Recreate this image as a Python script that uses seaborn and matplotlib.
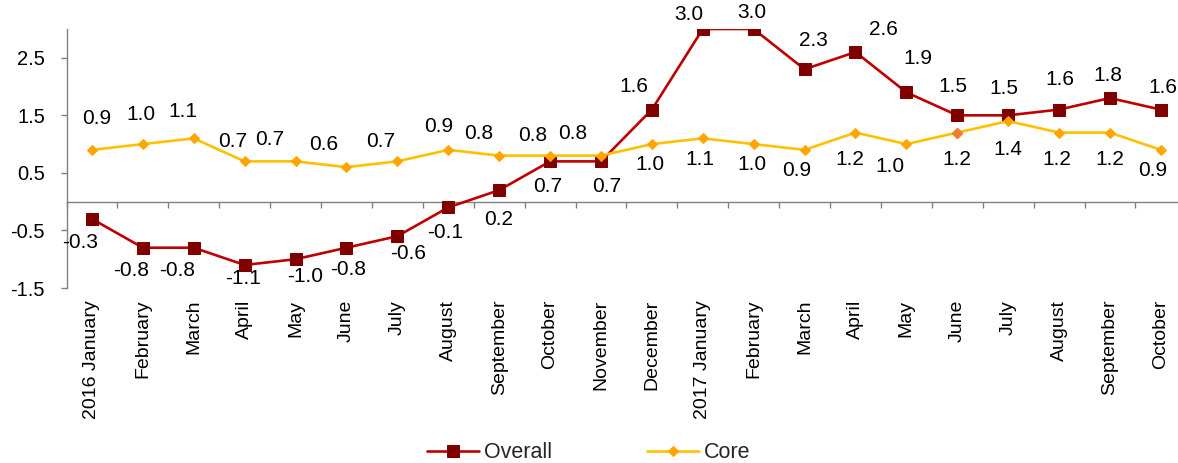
import numpy as np
import pandas as pd
import matplotlib
matplotlib.use("Agg")
import matplotlib.pyplot as plt
import seaborn as sns

# Monthly inflation, year-on-year (%)
months = ["2016 January", "February", "March", "April", "May", "June", "July",
          "August", "September", "October", "November", "December",
          "2017 January", "February", "March", "April", "May", "June", "July",
          "August", "September", "October"]
overall = [-0.3, -0.8, -0.8, -1.1, -1.0, -0.8, -0.6, -0.1, 0.2, 0.7, 0.7, 1.6,
           3.0, 3.0, 2.3, 2.6, 1.9, 1.5, 1.5, 1.6, 1.8, 1.6]
core = [0.9, 1.0, 1.1, 0.7, 0.7, 0.6, 0.7, 0.9, 0.8, 0.8, 0.8, 1.0,
        1.1, 1.0, 0.9, 1.2, 1.0, 1.2, 1.4, 1.2, 1.2, 0.9]
y_ticks = [-1.5, -0.5, 0.5, 1.5, 2.5]

# Value-label placement (pixel offsets from each marker, +y = downward)
overall_lbl_off = [(-12, 24), (-12, 23), (-17, 23), (-2, 14), (10, 17), (2, 22),
                   (11, 17), (-3, 25), (-1, 29), (-2, 25), (6, 25), (-18, -23),
                   (-14, -14), (-2, -17), (9, -29), (28, -23), (12, -34),
                   (-4, -29), (-4, -27), (1, -30), (-2, -23), (2, -22)]
core_lbl_off = [(5, -31), (-2, -30), (-11, -27), (-12, -20), (-26, -22),
                (-23, -23), (-17, -20), (-10, -23), (-20, -22), (-17, -20),
                (-28, -22), (-2, 20), (-3, 21), (-2, 20), (-8, 21), (-6, 27),
                (-16, 22), (0, 27), (0, 28), (-2, 27), (0, 27), (-8, 21)]

sns.set_style("white")
plt.rcParams["font.family"] = ["Liberation Sans", "DejaVu Sans"]
plt.rcParams["axes.unicode_minus"] = False

W, H = 1178, 463
fig = plt.figure(figsize=(W / 100, H / 100), dpi=100)
x0, x1 = 66.5, 1186.3
y_top, y_bot = 29, 288
ax = fig.add_axes([x0 / W, 1 - y_bot / H, (x1 - x0) / W, (y_bot - y_top) / H])

idx = np.arange(len(months))
df = pd.DataFrame({"idx": idx, "Overall": overall, "Core": core})

sns.lineplot(data=df, x="idx", y="Overall", ax=ax, color="#C00000", lw=1.9,
             marker="s", markersize=8.2, markerfacecolor="#800000",
             markeredgecolor="#800000", label="Overall", zorder=3)
sns.lineplot(data=df, x="idx", y="Core", ax=ax, color="#FFC000", lw=1.9,
             marker="D", markersize=5.2, markerfacecolor="#FFA500",
             markeredgecolor="#FFA500", label="Core", zorder=4)
# June 2017 core point highlighted
ax.plot(idx[17], core[17], marker="D", markersize=5.2, color="#ED7D31",
        linestyle="none", zorder=5)

ax.set_xlim(-0.5, len(months) - 0.5)
ax.set_ylim(-1.5, 3.0)

# value labels
for i, v in enumerate(overall):
    dx, dy = overall_lbl_off[i]
    ax.annotate(f"{v:.1f}", (idx[i], v), xytext=(dx, -dy), textcoords="offset pixels",
                ha="center", va="center", fontsize=15, color="black")
for i, v in enumerate(core):
    dx, dy = core_lbl_off[i]
    ax.annotate(f"{v:.1f}", (idx[i], v), xytext=(dx, -dy), textcoords="offset pixels",
                ha="center", va="center", fontsize=15, color="black")

# axes styling
spine_c = "#808080"
for s in ["top", "right", "bottom"]:
    ax.spines[s].set_visible(False)
ax.spines["left"].set_color(spine_c)
ax.spines["left"].set_linewidth(1.0)

ax.set_yticks(y_ticks)
ax.set_yticklabels([f"{t:.1f}" for t in y_ticks])
ax.tick_params(axis="y", direction="out", length=4.5, width=1, color=spine_c,
               pad=11, labelsize=14.5, labelcolor="black", left=True)

ax.set_xticks(idx)
ax.set_xticklabels(months, rotation=90, ha="center", va="top")
ax.tick_params(axis="x", length=0, pad=8.5, labelsize=14, labelcolor="black")
ax.set_xlabel("")
ax.set_ylabel("")

# category axis crossing at zero with boundary tick marks
sec = ax.secondary_xaxis(0, transform=ax.transData)
sec.set_xticks(np.arange(-0.5, len(months) + 0.5, 1.0))
sec.tick_params(axis="x", direction="out", length=4.5, width=1, color=spine_c,
                labelbottom=False, labeltop=False)
sec.spines["bottom"].set_color(spine_c)
sec.spines["bottom"].set_linewidth(1.0)

handles, labels = ax.get_legend_handles_labels()
ax.get_legend().remove()
fig.legend(handles, labels, loc="center", bbox_to_anchor=(589 / W, 1 - 453 / H),
           ncol=2, frameon=False, fontsize=15.5, handlelength=2.4,
           columnspacing=4.4, handletextpad=0.25)

fig.savefig("out.png", dpi=100)
